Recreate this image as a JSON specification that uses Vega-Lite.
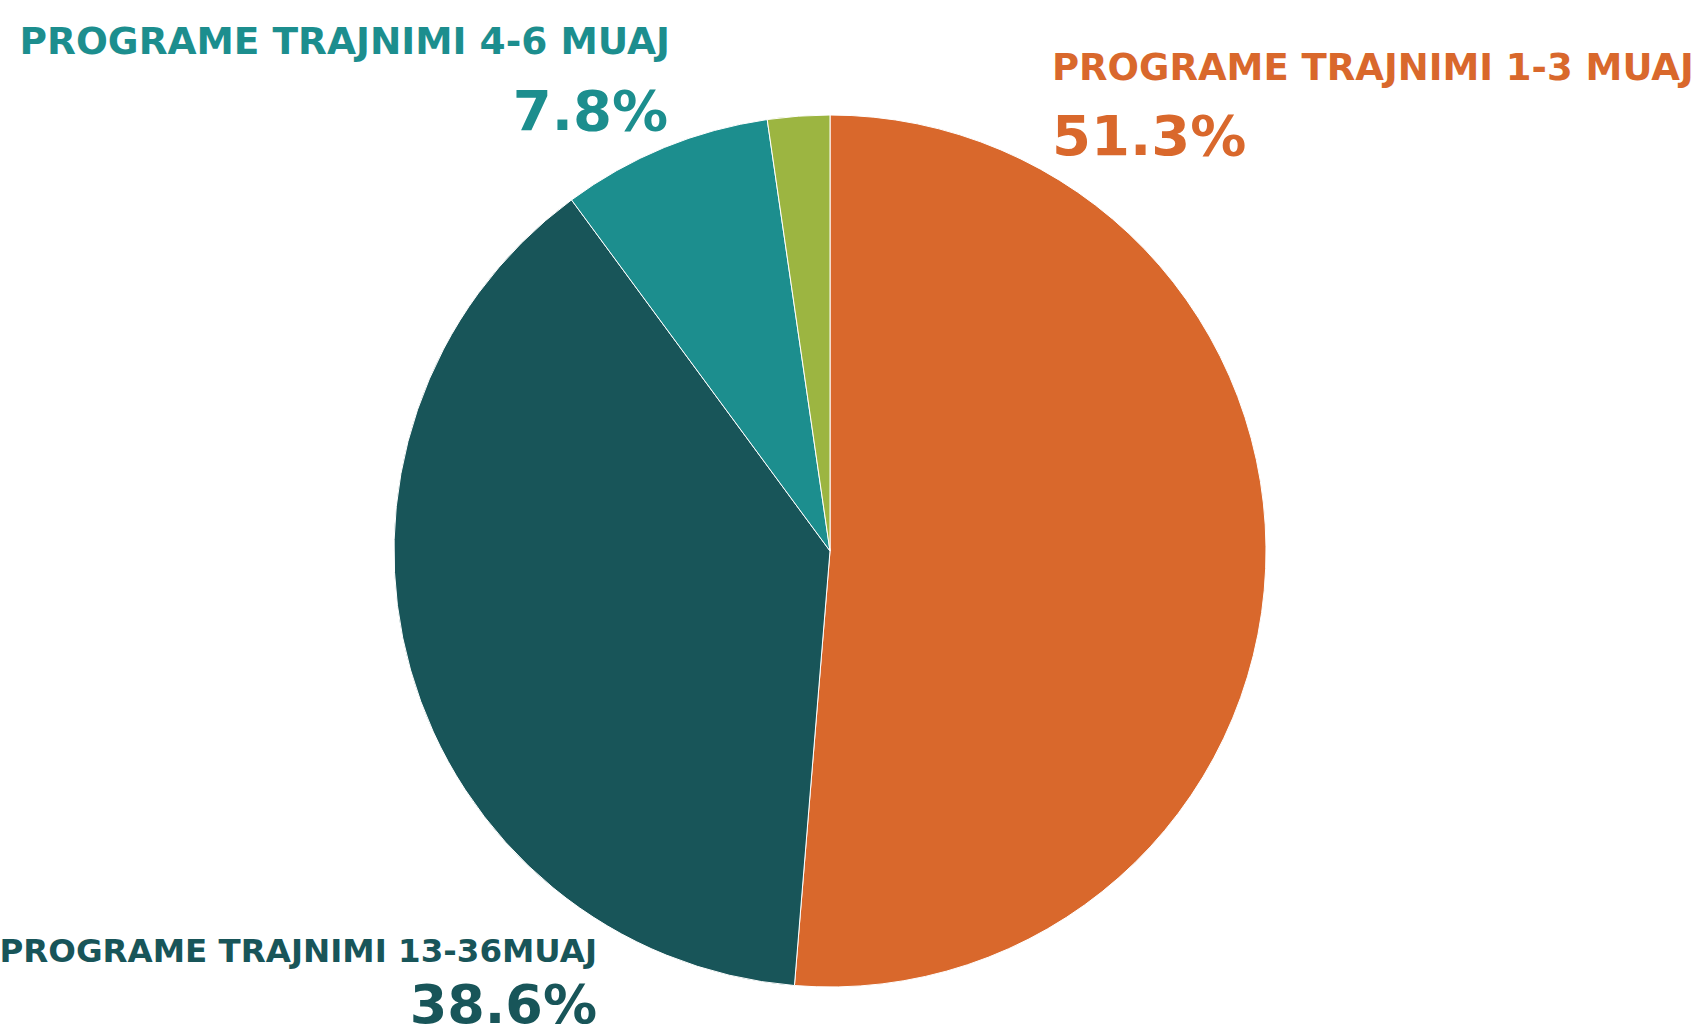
{
  "$schema": "https://vega.github.io/schema/vega-lite/v6.json",
  "autosize": "none",
  "width": 1660,
  "height": 964,
  "padding": {"left": 0, "right": 38, "top": 69, "bottom": 0},
  "background": "#ffffff",
  "view": {"stroke": null},
  "data": {
    "values": [
      {"idx": 1, "category": "PROGRAME TRAJNIMI 1-3 MUAJ", "value": 0.513},
      {"idx": 2, "category": "PROGRAME TRAJNIMI 13-36MUAJ", "value": 0.386},
      {"idx": 3, "category": "PROGRAME TRAJNIMI 4-6 MUAJ", "value": 0.078},
      {"idx": 4, "category": "PROGRAME TRAJNIMI 7-12 MUAJ", "value": 0.023}
    ]
  },
  "encoding": {
    "theta": {"field": "value", "type": "quantitative", "stack": true},
    "order": {"field": "idx", "type": "quantitative"},
    "color": {
      "field": "category",
      "type": "nominal",
      "legend": null,
      "scale": {
        "domain": ["PROGRAME TRAJNIMI 1-3 MUAJ", "PROGRAME TRAJNIMI 13-36MUAJ", "PROGRAME TRAJNIMI 4-6 MUAJ", "PROGRAME TRAJNIMI 7-12 MUAJ"],
        "range": ["#D9682C", "#185559", "#1C8E8E", "#9CB541"]
      }
    }
  },
  "layer": [
    {"mark": {"type": "arc", "radius": 436, "stroke": "#ffffff", "strokeWidth": 1}},
    {
      "transform": [{"filter": "datum.idx == 1"}],
      "mark": {"type": "text", "radius": 0, "dx": 222, "dy": -471, "align": "left", "baseline": "alphabetic", "font": "DejaVu Sans", "fontWeight": "bold", "fontSize": 37},
      "encoding": {"text": {"field": "category"}}
    },
    {
      "transform": [{"filter": "datum.idx == 1"}],
      "mark": {"type": "text", "radius": 0, "dx": 222, "dy": -396, "align": "left", "baseline": "alphabetic", "font": "DejaVu Sans", "fontWeight": "bold", "fontSize": 56},
      "encoding": {"text": {"field": "value", "format": ".1%"}}
    },
    {
      "transform": [{"filter": "datum.idx == 3"}],
      "mark": {"type": "text", "radius": 0, "dx": -160, "dy": -497, "align": "right", "baseline": "alphabetic", "font": "DejaVu Sans", "fontWeight": "bold", "fontSize": 37.5},
      "encoding": {"text": {"field": "category"}}
    },
    {
      "transform": [{"filter": "datum.idx == 3"}],
      "mark": {"type": "text", "radius": 0, "dx": -162, "dy": -421, "align": "right", "baseline": "alphabetic", "font": "DejaVu Sans", "fontWeight": "bold", "fontSize": 56},
      "encoding": {"text": {"field": "value", "format": ".1%"}}
    },
    {
      "transform": [{"filter": "datum.idx == 2"}],
      "mark": {"type": "text", "radius": 0, "dx": -233, "dy": 411, "align": "right", "baseline": "alphabetic", "font": "DejaVu Sans", "fontWeight": "bold", "fontSize": 32.5},
      "encoding": {"text": {"field": "category"}}
    },
    {
      "transform": [{"filter": "datum.idx == 2"}],
      "mark": {"type": "text", "radius": 0, "dx": -233, "dy": 472, "align": "right", "baseline": "alphabetic", "font": "DejaVu Sans", "fontWeight": "bold", "fontSize": 54},
      "encoding": {"text": {"field": "value", "format": ".1%"}}
    }
  ]
}
